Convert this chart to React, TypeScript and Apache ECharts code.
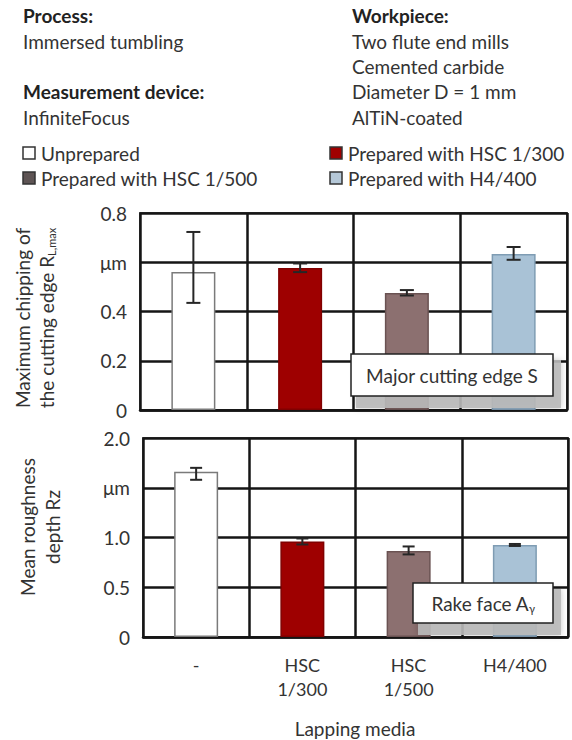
import { useEffect, useRef } from "react";
import * as echarts from "echarts";

const categories = ["-", "HSC\n1/300", "HSC\n1/500", "H4/400"];
const chippingValues = [0.56, 0.577, 0.475, 0.634];
const chippingLow = [0.435, 0.56, 0.465, 0.61];
const chippingHigh = [0.723, 0.595, 0.487, 0.662];
const roughnessValues = [1.66, 0.96, 0.865, 0.925];
const roughnessLow = [1.58, 0.93, 0.83, 0.915];
const roughnessHigh = [1.7, 0.99, 0.91, 0.935];
const chippingTicks = { min: 0, max: 0.8, interval: 0.2, unitAt: 0.6 };
const roughnessTicks = { min: 0, max: 2.0, interval: 0.5, unitAt: 1.5 };
const legendNames = ["Unprepared", "Prepared with HSC 1/300", "Prepared with HSC 1/500", "Prepared with H4/400"];

const barFill = ["#ffffff", "#9e0000", "#8c7070", "#a9c2d6"];
const barStroke = ["#7a7a7a", "#800000", "#6a5252", "#7f9cb3"];
const legendFill = ["#ffffff", "#a00000", "#5e5454", "#b5c8d8"];

const FONT = "Lato, 'Open Sans', sans-serif";
const TXT = "#333333";
const LINE = "#151515";

function tickFormatter(t: { unitAt: number }) {
  return (v: number) => {
    if (Math.abs(v) < 1e-9) return "0";
    if (Math.abs(v - t.unitAt) < 1e-6) return "μm";
    return v.toFixed(1);
  };
}

function errorSeries(idx: number, low: number[], high: number[], cap: number) {
  return {
    type: "custom",
    xAxisIndex: idx,
    yAxisIndex: idx,
    z: 5,
    silent: true,
    renderItem: (_p: any, api: any) => {
      const x = api.value(0);
      const pHi = api.coord([x, api.value(2)]);
      const pLo = api.coord([x, api.value(1)]);
      const st = { stroke: "#262626", lineWidth: 2 };
      return {
        type: "group",
        children: [
          { type: "line", shape: { x1: pHi[0], y1: pHi[1], x2: pLo[0], y2: pLo[1] }, style: st },
          { type: "line", shape: { x1: pHi[0] - cap / 2, y1: pHi[1], x2: pHi[0] + cap / 2, y2: pHi[1] }, style: st },
          { type: "line", shape: { x1: pLo[0] - cap / 2, y1: pLo[1], x2: pLo[0] + cap / 2, y2: pLo[1] }, style: st },
        ],
      };
    },
    data: categories.map((_c, i) => [i, low[i], high[i]]),
  };
}

function labelBox(x: number, y: number, w: number, h: number, rich: any, text: string) {
  return [
    {
      type: "rect",
      z: 20,
      shape: { x: x + 5, y: y + 6, width: w + 3, height: h + 6 },
      style: { fill: "rgba(185,185,185,0.9)", shadowBlur: 6, shadowColor: "rgba(0,0,0,0.25)" },
    },
    {
      type: "rect",
      z: 21,
      shape: { x, y, width: w, height: h },
      style: { fill: "#ffffff", stroke: "#222", lineWidth: 1.5 },
    },
    {
      type: "text",
      z: 22,
      x: x + w / 2,
      y: y + h / 2,
      style: { text, rich, align: "center", verticalAlign: "middle", font: `19px ${FONT}`, fill: TXT },
    },
  ];
}

export default function App() {
  const ref = useRef<HTMLDivElement>(null);
  useEffect(() => {
    if (!ref.current) return;
    const chart = echarts.init(ref.current, undefined, { renderer: "svg" });

    const headerText = (x: number, y: number, text: string, bold = false) => ({
      type: "text",
      x,
      y,
      style: { text, font: `${bold ? "bold " : ""}19px ${FONT}`, fill: bold ? "#222" : TXT, verticalAlign: "middle" },
    });

    const legendPos = [
      [23, 153],
      [330, 153],
      [23, 178],
      [330, 178],
    ];
    const legendEls: any[] = [];
    legendNames.forEach((n, i) => {
      const [lx, ly] = legendPos[i];
      legendEls.push({
        type: "rect",
        shape: { x: lx, y: ly - 6, width: 12, height: 12 },
        style: { fill: legendFill[i], stroke: "#333", lineWidth: 1.5 },
      });
      legendEls.push(headerText(lx + 18, ly, n));
    });

    const subRich = {
      a: { font: `19px ${FONT}`, fill: TXT, lineHeight: 22 },
      s: { font: `11px ${FONT}`, fill: TXT, lineHeight: 10, verticalAlign: "bottom" },
    };

    const xAxisBase = (gridIndex: number, showLabels: boolean) => ({
      type: "category",
      gridIndex,
      data: categories,
      boundaryGap: true,
      axisLine: { show: true, lineStyle: { color: LINE, width: 2.5 } },
      axisTick: { show: false },
      axisLabel: showLabels
        ? { show: true, interval: 0, margin: 16, fontSize: 18, lineHeight: 24, color: TXT, fontFamily: FONT }
        : { show: false },
      splitLine: { show: true, interval: 0, lineStyle: { color: LINE, width: 2.5 } },
    });

    const yAxisBase = (gridIndex: number, t: any) => ({
      type: "value",
      gridIndex,
      min: t.min,
      max: t.max,
      interval: t.interval,
      axisLine: { show: false },
      axisTick: { show: false },
      axisLabel: { formatter: tickFormatter(t), margin: 13, fontSize: 19, color: TXT, fontFamily: FONT },
      splitLine: { show: true, lineStyle: { color: LINE, width: 2.5 } },
    });

    const barSeries = (idx: number, values: number[]) => ({
      type: "bar",
      xAxisIndex: idx,
      yAxisIndex: idx,
      barWidth: 44,
      z: 3,
      data: values.map((v, i) => ({
        value: v,
        itemStyle: { color: barFill[i], borderColor: barStroke[i], borderWidth: 1.5 },
      })),
    });

    chart.setOption({
      animation: false,
      textStyle: { fontFamily: FONT },
      grid: [
        { left: 140, top: 213, width: 427, height: 197, show: true, borderColor: "#444", borderWidth: 2, backgroundColor: "#fff" },
        { left: 143, top: 438, width: 425, height: 199, show: true, borderColor: "#444", borderWidth: 2, backgroundColor: "#fff" },
      ],
      xAxis: [xAxisBase(0, false), xAxisBase(1, true)],
      yAxis: [yAxisBase(0, chippingTicks), yAxisBase(1, roughnessTicks)],
      series: [
        barSeries(0, chippingValues),
        errorSeries(0, chippingLow, chippingHigh, 14),
        barSeries(1, roughnessValues),
        errorSeries(1, roughnessLow, roughnessHigh, 12),
      ],
      graphic: [
        headerText(23, 15, "Process:", true),
        headerText(23, 41, "Immersed tumbling"),
        headerText(23, 91, "Measurement device:", true),
        headerText(23, 117, "InfiniteFocus"),
        headerText(352, 15, "Workpiece:", true),
        headerText(352, 41, "Two flute end mills"),
        headerText(352, 66, "Cemented carbide"),
        headerText(352, 91, "Diameter D = 1 mm"),
        headerText(352, 117, "AlTiN-coated"),
        ...legendEls,
        {
          type: "text",
          x: 22,
          y: 318,
          rotation: Math.PI / 2,
          style: { text: "Maximum chipping of", font: `19px ${FONT}`, fill: TXT, align: "center", verticalAlign: "middle" },
        },
        {
          type: "text",
          x: 46,
          y: 318,
          rotation: Math.PI / 2,
          style: { text: "{a|the cutting edge R}{s|L,max}", rich: subRich, align: "center", verticalAlign: "middle" },
        },
        {
          type: "text",
          x: 27,
          y: 527,
          rotation: Math.PI / 2,
          style: { text: "Mean roughness", font: `19px ${FONT}`, fill: TXT, align: "center", verticalAlign: "middle" },
        },
        {
          type: "text",
          x: 52,
          y: 527,
          rotation: Math.PI / 2,
          style: { text: "depth Rz", font: `19px ${FONT}`, fill: TXT, align: "center", verticalAlign: "middle" },
        },
        {
          type: "text",
          x: 355,
          y: 728,
          style: { text: "Lapping media", font: `19px ${FONT}`, fill: TXT, align: "center", verticalAlign: "middle" },
        },
        ...labelBox(351, 354, 202, 42, undefined, "Major cutting edge S"),
        ...labelBox(413, 583, 140, 40, subRich, "{a|Rake face A}{s|γ}"),
      ],
    });
    return () => chart.dispose();
  }, []);
  return <div ref={ref} style={{ position: "fixed", left: 0, top: 0, width: 572, height: 740, background: "#fff" }} />;
}
